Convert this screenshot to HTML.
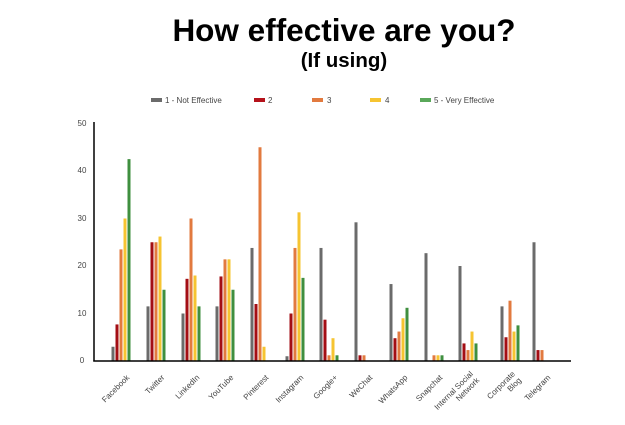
<!DOCTYPE html>
<html><head><meta charset="utf-8"><style>
body{margin:0;background:#fff;}
svg{display:block;font-family:"Liberation Sans",sans-serif;}
</style></head><body>
<svg width="625" height="425" viewBox="0 0 625 425" xmlns="http://www.w3.org/2000/svg">
<text x="344" y="41" text-anchor="middle" font-size="31.5" font-weight="bold" fill="#000">How effective are you?</text>
<text x="344" y="67" text-anchor="middle" font-size="20.5" font-weight="bold" fill="#000">(If using)</text>
<g font-size="8" fill="#444">
<rect x="151" y="98" width="11" height="4" fill="#6b6b6b"/><text x="165" y="103">1 - Not Effective</text>
<rect x="254" y="98" width="11" height="4" fill="#b5121b"/><text x="268" y="103">2</text>
<rect x="312" y="98" width="11" height="4" fill="#e27a3f"/><text x="327" y="103">3</text>
<rect x="370" y="98" width="11" height="4" fill="#f6c431"/><text x="385" y="103">4</text>
<rect x="420" y="98" width="11" height="4" fill="#5aa85a"/><text x="434" y="103">5 - Very Effective</text>
</g>
<g font-size="8" fill="#444" text-anchor="middle">
<text x="82" y="126">50</text><text x="82" y="173">40</text><text x="82" y="221">30</text><text x="82" y="268">20</text><text x="82" y="316">10</text><text x="82" y="363">0</text>
</g>
<g id="bars"></g>
<line x1="94" y1="122" x2="94" y2="361.5" stroke="#000" stroke-width="1.5"/>
<line x1="93.3" y1="361" x2="571" y2="361" stroke="#000" stroke-width="1.5"/>
<g id="labels" font-size="8" fill="#444" text-anchor="end"></g>
<script>
var cols=["#6b6b6b","#a30e14","#e27a3f","#f6c431","#3f8f3f"];
var d=[["Facebook",113,[3,7.7,23.5,30,42.5]],["Twitter",148,[11.5,25,25,26.2,15]],["LinkedIn",183,[10,17.3,30,18,11.5]],["YouTube",217,[11.5,17.8,21.4,21.4,15]],["Pinterest",252,[23.8,12,45,3,0]],["Instagram",287,[1,10,23.8,31.3,17.5]],["Google+",321,[23.8,8.7,1.2,4.8,1.2]],["WeChat",356,[29.2,1.2,1.2,0,0]],["WhatsApp",391,[16.2,4.8,6.2,9,11.2]],["Snapchat",426,[22.7,0,1.2,1.2,1.2]],["Internal Social|Network",460,[20,3.7,2.3,6.2,3.7]],["Corporate|Blog",502,[11.5,5,12.7,6.2,7.5]],["Telegram",534,[25,2.3,2.3,0,0]]];
var ns="http://www.w3.org/2000/svg",b=document.getElementById("bars"),l=document.getElementById("labels");
d.forEach(function(g){g[2].forEach(function(v,i){if(v<=0)return;var r=document.createElementNS(ns,"rect");var h=v*4.75;r.setAttribute("x",g[1]+i*4-1.5);r.setAttribute("y",361-h);r.setAttribute("width",3);r.setAttribute("height",h);r.setAttribute("fill",cols[i]);b.appendChild(r);});
var parts=g[0].split("|");var cx=g[1]+17,cy=378;
parts.forEach(function(p,k){var t=document.createElementNS(ns,"text");var off=(k-(parts.length-1))*9+ (parts.length>1?4:0);t.setAttribute("x",cx);t.setAttribute("y",cy);t.setAttribute("transform","rotate(-45 "+(cx)+" "+cy+") translate(0 "+off+")");t.textContent=p;l.appendChild(t);});});
</script>
</svg>
</body></html>
